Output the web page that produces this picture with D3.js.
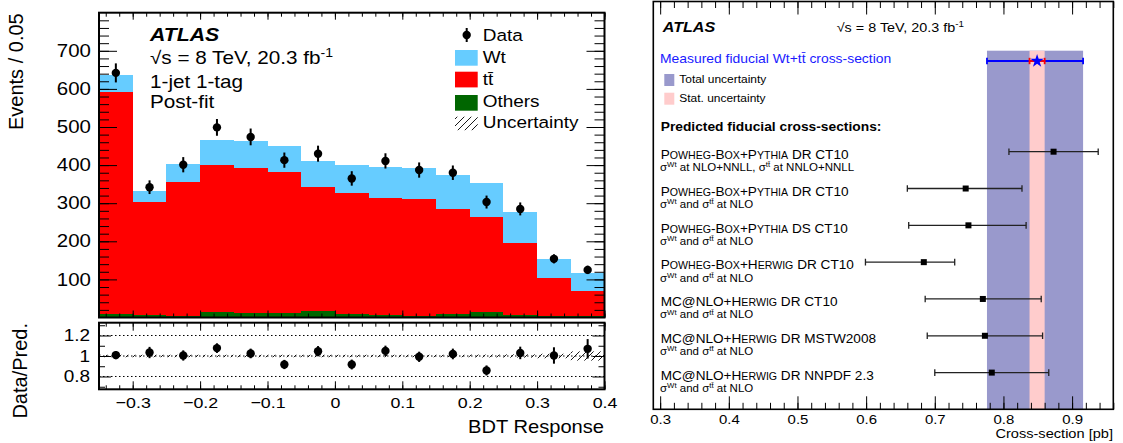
<!DOCTYPE html>
<html>
<head>
<meta charset="utf-8">
<script src="https://cdn.jsdelivr.net/npm/d3@7"></script>
<style>
  body { margin: 0; background: #fff; }
  svg { display: block; font-family: 'Liberation Sans', Arial, Helvetica, sans-serif; }
</style>
</head>
<body>
<svg id="chart" width="1123" height="443"></svg>
<script>
// ---- left: BDT response, 1-jet 1-tag, post-fit ----
const binEdges = [-0.35, -0.3, -0.25, -0.2, -0.15, -0.1, -0.05, 0, 0.05, 0.1, 0.15, 0.2, 0.25, 0.3, 0.35, 0.4];
const others = [10, 7, 4, 14, 13, 11, 17, 9, 7, 5, 10, 14, 7, 4, 4];
const ttbar = [582, 296, 352, 385, 380, 370, 325, 317, 307, 306, 275, 249, 188, 100, 66];
const wt = [44, 28, 47, 67, 71, 70, 70, 74, 80, 81, 89, 90, 82, 49, 48];
const dataCounts = [642, 342, 401, 499, 474, 413, 430, 365, 411, 387, 380, 303, 285, 154, 125];
const dataErr = [25, 18, 20, 22, 22, 20, 21, 19, 20, 20, 19, 17, 17, 12, 11];
const ratio = [1.009, 1.034, 1.005, 1.077, 1.025, 0.917, 1.047, 0.917, 1.05, 0.992, 1.02, 0.859, 1.03, 1.005, 1.07];
const ratioErr = [0.04, 0.055, 0.05, 0.047, 0.047, 0.045, 0.05, 0.048, 0.051, 0.05, 0.052, 0.049, 0.061, 0.08, 0.095];
const relUnc = [0.012, 0.012, 0.012, 0.012, 0.012, 0.012, 0.012, 0.012, 0.012, 0.012, 0.012, 0.014, 0.016, 0.022, 0.045];
const xTickVals = [-0.3, -0.2, -0.1, 0, 0.1, 0.2, 0.3, 0.4];
const yTickVals = [100, 200, 300, 400, 500, 600, 700];
const rTickVals = [0.8, 1, 1.2];

// ---- right: fiducial cross-section comparison ----
const measured = {value: 0.849, statLo: 0.838, statHi: 0.860, totLo: 0.776, totHi: 0.916};
const models = ['Powheg-Box+Pythia DR CT10', 'Powheg-Box+Pythia DR CT10', 'Powheg-Box+Pythia DS CT10',
  'Powheg-Box+Herwig DR CT10', 'MC@NLO+Herwig DR CT10', 'MC@NLO+Herwig DR MSTW2008', 'MC@NLO+Herwig DR NNPDF 2.3'];
const modelNotes = ['σ^{Wt} at NLO+NNLL, σ^{tt\u0304} at NNLO+NNLL', 'σ^{Wt} and σ^{tt\u0304} at NLO', 'σ^{Wt} and σ^{tt\u0304} at NLO',
  'σ^{Wt} and σ^{tt\u0304} at NLO', 'σ^{Wt} and σ^{tt\u0304} at NLO', 'σ^{Wt} and σ^{tt\u0304} at NLO', 'σ^{Wt} and σ^{tt\u0304} at NLO'];
const predCentral = [0.873, 0.745, 0.749, 0.684, 0.770, 0.773, 0.783];
const predLo = [0.808, 0.660, 0.662, 0.599, 0.686, 0.689, 0.700];
const predHi = [0.938, 0.827, 0.833, 0.729, 0.855, 0.857, 0.866];
const csTickVals = [0.3, 0.4, 0.5, 0.6, 0.7, 0.8, 0.9];

const SX = 1.15; // the reference glyphs run wider than Arial
const svg = d3.select('#chart');

function txt(parent, x, y, str, o) {
  o = o || {};
  const sx = o.sx || (o.rotate ? 1 : SX);
  return parent.append('text')
    .attr('transform', `translate(${x},${y}) rotate(${o.rotate || 0}) scale(${sx},1)`)
    .attr('text-anchor', o.anchor || 'start')
    .style('font-size', (o.size || 16) + 'px')
    .style('font-weight', o.bold ? 'bold' : null)
    .style('font-style', o.italic ? 'italic' : null)
    .attr('fill', o.color || '#000')
    .text(str);
}

// "a^{b} c" -> tspans with superscripts
function rich(parent, x, y, str, size, o) {
  const t = txt(parent, x, y, null, Object.assign({size: size}, o));
  const parts = str.split(/\^\{([^}]*)\}/);
  let shift = 0;
  parts.forEach(function (p, i) {
    if (!p) return;
    const up = i % 2 ? -size * 0.38 : 0;
    t.append('tspan').attr('dy', up - shift)
      .style('font-size', (i % 2 ? size * 0.68 : size) + 'px').text(p);
    shift = up;
  });
  return t;
}

// small caps: lowercase runs drawn as smaller capitals
function smallCaps(parent, x, y, str, size, o) {
  const t = txt(parent, x, y, null, Object.assign({size: size}, o));
  str.split(/([a-z]+)/).forEach(function (p, i) {
    if (!p) return;
    t.append('tspan').style('font-size', (i % 2 ? size * 0.78 : size) + 'px')
      .text(i % 2 ? p.toUpperCase() : p);
  });
}

function stretchTicks(g, size) {
  g.attr('font-size', null).attr('font-family', null);
  g.select('.domain').remove();
  g.selectAll('.tick text').each(function () {
    const t = d3.select(this);
    const x = +t.attr('x') || 0, y = +t.attr('y') || 0;
    t.attr('x', 0).attr('y', 0).style('font-size', size + 'px')
      .attr('transform', `translate(${x},${y}) scale(${SX},1)`);
  });
}

function ticks(parent, axis, scale, values, size, at) {
  const g = parent.append('g').attr('transform', at)
    .call(axis(scale).tickValues(values).tickSize(size).tickFormat(''));
  g.select('.domain').remove();
  g.selectAll('line').attr('stroke-width', 1);
  return g;
}

const fmt = function (d) { return d === 0 ? '0' : (d === 1 ? '1' : d3.format('.1f')(d)); };

// ================= LEFT PANEL =================
const xL = d3.scaleLinear().domain([-0.35, 0.4]).range([99, 604.5]);
const yTop = d3.scaleLinear().domain([0, 800]).range([317.5, 12.7]);
const yRat = d3.scaleLinear().domain([0.675, 1.325]).range([389.3, 322.7]);
const colors = {others: '#006600', tt: '#ff0000', wt: '#66ccff'};

const rows = dataCounts.map(function (d, i) {
  return {lo: binEdges[i], hi: binEdges[i + 1], others: others[i], tt: ttbar[i], wt: wt[i],
    data: d, err: dataErr[i], ratio: ratio[i], rerr: ratioErr[i], unc: relUnc[i]};
});
const stacked = d3.stack().keys(['others', 'tt', 'wt'])(rows);

const left = svg.append('g');
left.append('g').selectAll('g')
  .data(stacked)
  .join('g')
  .attr('fill', function (d) { return colors[d.key]; })
  .selectAll('rect')
  .data(function (d) { return d; })
  .join('rect')
  .attr('shape-rendering', 'crispEdges')
  .attr('x', function (d) { return xL(d.data.lo); })
  .attr('width', function (d) { return xL(d.data.hi) - xL(d.data.lo); })
  .attr('y', function (d) { return yTop(d[1]); })
  .attr('height', function (d) { return yTop(d[0]) - yTop(d[1]); });

// hatch pattern
const defs = svg.append('defs');
defs.append('pattern').attr('id', 'hatch').attr('patternUnits', 'userSpaceOnUse')
  .attr('width', 7).attr('height', 7)
  .append('path').attr('d', 'M0,7 L7,0 M-1,1 L1,-1 M6,8 L8,6')
  .attr('stroke', '#000').attr('stroke-width', 0.9);

// ticks, upper
const xMinor = d3.range(-0.34, 0.401, 0.02);
const yMinor = d3.range(20, 800, 20);
ticks(left, d3.axisTop, xL, xMinor, -4, `translate(0,${yTop.range()[1]})`);
ticks(left, d3.axisTop, xL, xTickVals, -7, `translate(0,${yTop.range()[1]})`);
ticks(left, d3.axisBottom, xL, xMinor, -4, `translate(0,${yTop.range()[0]})`);
ticks(left, d3.axisBottom, xL, xTickVals, -7, `translate(0,${yTop.range()[0]})`);
ticks(left, d3.axisLeft, yTop, yMinor, -10, 'translate(99,0)');
ticks(left, d3.axisRight, yTop, yMinor, -10, 'translate(604.5,0)');
ticks(left, d3.axisRight, yTop, yTickVals, -18, 'translate(604.5,0)');
left.append('g').attr('transform', 'translate(99,0)')
  .call(d3.axisLeft(yTop).tickValues(yTickVals).tickSize(-18).tickPadding(8))
  .call(stretchTicks, 17.8);

// frames
left.append('rect').attr('x', 99).attr('y', 12.7).attr('width', 505.5).attr('height', 304.8)
  .attr('fill', 'none').attr('stroke', '#000').attr('stroke-width', 2);

// data points, upper
const pts = left.append('g');
pts.selectAll('line').data(rows).join('line')
  .attr('x1', function (d) { return xL((d.lo + d.hi) / 2); })
  .attr('x2', function (d) { return xL((d.lo + d.hi) / 2); })
  .attr('y1', function (d) { return yTop(d.data - d.err); })
  .attr('y2', function (d) { return yTop(d.data + d.err); })
  .attr('stroke', '#000').attr('stroke-width', 2);
pts.selectAll('circle').data(rows).join('circle')
  .attr('cx', function (d) { return xL((d.lo + d.hi) / 2); })
  .attr('cy', function (d) { return yTop(d.data); })
  .attr('r', 4.2);

// ratio panel
const rp = left.append('g');
rp.selectAll('line.grid').data(rTickVals).join('line').attr('class', 'grid')
  .attr('x1', 99).attr('x2', 604.5)
  .attr('y1', function (d) { return yRat(d); }).attr('y2', function (d) { return yRat(d); })
  .attr('stroke', '#000').attr('stroke-width', 1).attr('stroke-dasharray', '1.5,2.5');
rp.selectAll('rect.unc').data(rows).join('rect').attr('class', 'unc')
  .attr('x', function (d) { return xL(d.lo); })
  .attr('width', function (d) { return xL(d.hi) - xL(d.lo); })
  .attr('y', function (d) { return yRat(1 + d.unc); })
  .attr('height', function (d) { return yRat(1 - d.unc) - yRat(1 + d.unc); })
  .attr('fill', 'url(#hatch)');
const rMinor = [0.7, 0.9, 1.1, 1.3];
ticks(rp, d3.axisTop, xL, xMinor, -4, `translate(0,${yRat.range()[1]})`);
ticks(rp, d3.axisTop, xL, xTickVals, -8, `translate(0,${yRat.range()[1]})`);
ticks(rp, d3.axisBottom, xL, xMinor, -4, `translate(0,${yRat.range()[0]})`);
ticks(rp, d3.axisLeft, yRat, rMinor, -6, 'translate(99,0)');
ticks(rp, d3.axisRight, yRat, rMinor, -6, 'translate(604.5,0)');
ticks(rp, d3.axisRight, yRat, rTickVals, -12, 'translate(604.5,0)');
rp.append('g').attr('transform', `translate(0,${yRat.range()[0]})`)
  .call(d3.axisBottom(xL).tickValues(xTickVals).tickSize(-8).tickPadding(8).tickFormat(fmt))
  .call(stretchTicks, 15.5);
rp.append('g').attr('transform', 'translate(99,0)')
  .call(d3.axisLeft(yRat).tickValues(rTickVals).tickSize(-12).tickPadding(9).tickFormat(fmt))
  .call(stretchTicks, 16.5);
rp.append('rect').attr('x', 99).attr('y', 322.7).attr('width', 505.5).attr('height', 66.6)
  .attr('fill', 'none').attr('stroke', '#000').attr('stroke-width', 2);
rp.selectAll('line.err').data(rows).join('line').attr('class', 'err')
  .attr('x1', function (d) { return xL((d.lo + d.hi) / 2); })
  .attr('x2', function (d) { return xL((d.lo + d.hi) / 2); })
  .attr('y1', function (d) { return yRat(d.ratio - d.rerr); })
  .attr('y2', function (d) { return yRat(d.ratio + d.rerr); })
  .attr('stroke', '#000').attr('stroke-width', 2);
rp.selectAll('circle').data(rows).join('circle')
  .attr('cx', function (d) { return xL((d.lo + d.hi) / 2); })
  .attr('cy', function (d) { return yRat(d.ratio); })
  .attr('r', 4.2);

// titles and labels
txt(left, 23.3, 13.3, 'Events / 0.05', {rotate: -90, anchor: 'end', size: 20});
txt(left, 26.7, 323, 'Data/Pred.', {rotate: -90, anchor: 'end', size: 20});
txt(left, 604, 433, 'BDT Response', {anchor: 'end', size: 17.5});
txt(left, 150, 40.7, 'ATLAS', {bold: true, italic: true, size: 18.5});
rich(left, 150, 64, '√s = 8 TeV, 20.3 fb^{-1}', 18);
txt(left, 150, 88.3, '1-jet 1-tag', {size: 18});
txt(left, 150, 108.3, 'Post-fit', {size: 18});

// legend
const leg = left.append('g');
leg.append('line').attr('x1', 466.7).attr('x2', 466.7).attr('y1', 28).attr('y2', 42)
  .attr('stroke', '#000').attr('stroke-width', 2);
leg.append('circle').attr('cx', 466.7).attr('cy', 35).attr('r', 4.2);
const legBoxes = [{c: colors.wt, y: 50}, {c: colors.tt, y: 71.7}, {c: colors.others, y: 95}];
leg.selectAll('rect').data(legBoxes).join('rect')
  .attr('x', 455).attr('width', 22.7).attr('y', function (d) { return d.y; }).attr('height', 15.7)
  .attr('fill', function (d) { return d.c; });
leg.append('rect').attr('x', 455).attr('width', 22.7).attr('y', 116.7).attr('height', 13.5)
  .attr('fill', 'url(#hatch)');
const legLabels = ['Data', 'Wt', 'tt\u0304', 'Others', 'Uncertainty'];
const legY = [40.7, 63.3, 85, 106.7, 128.3];
legLabels.forEach(function (l, i) { txt(leg, 482.7, legY[i], l, {size: 16.5}); });

// ================= RIGHT PANEL =================
const xR = d3.scaleLinear().domain([0.29, 0.96]).range([653.3, 1113.3]);
const yR = d3.scalePoint().domain(d3.range(models.length)).range([151.7, 372.6]);
const right = svg.append('g');
const frameTop = 1.5, frameBot = 409.3;

right.append('rect').attr('x', xR(measured.totLo)).attr('width', xR(measured.totHi) - xR(measured.totLo))
  .attr('y', 50.7).attr('height', frameBot - 50.7).attr('fill', '#9999cc');
right.append('rect').attr('x', xR(measured.statLo)).attr('width', xR(measured.statHi) - xR(measured.statLo))
  .attr('y', 50.7).attr('height', frameBot - 50.7).attr('fill', '#ffcccc');

const csMinor = d3.range(0.30, 0.961, 0.02);
ticks(right, d3.axisTop, xR, csMinor, -6.5, `translate(0,${frameTop})`);
ticks(right, d3.axisTop, xR, csTickVals, -13, `translate(0,${frameTop})`);
ticks(right, d3.axisBottom, xR, csMinor, -6.5, `translate(0,${frameBot})`);
right.append('g').attr('transform', `translate(0,${frameBot})`)
  .call(d3.axisBottom(xR).tickValues(csTickVals).tickSize(-13).tickPadding(5.5).tickFormat(d3.format('.1f')))
  .call(stretchTicks, 13);
right.append('rect').attr('x', 653.3).attr('y', frameTop).attr('width', 460).attr('height', frameBot - frameTop)
  .attr('fill', 'none').attr('stroke', '#000').attr('stroke-width', 1.6);

// measured value
const mY = 61, cap = 3.2;
const mg = right.append('g');
mg.append('line').attr('x1', xR(measured.totLo)).attr('x2', xR(measured.totHi)).attr('y1', mY).attr('y2', mY)
  .attr('stroke', '#0000ff').attr('stroke-width', 1.8);
[measured.totLo, measured.totHi].forEach(function (v) {
  mg.append('line').attr('x1', xR(v)).attr('x2', xR(v)).attr('y1', mY - cap).attr('y2', mY + cap)
    .attr('stroke', '#0000ff').attr('stroke-width', 1.8);
});
mg.append('line').attr('x1', xR(measured.statLo)).attr('x2', xR(measured.statHi)).attr('y1', mY).attr('y2', mY)
  .attr('stroke', '#ff0000').attr('stroke-width', 1.8);
[measured.statLo, measured.statHi].forEach(function (v) {
  mg.append('line').attr('x1', xR(v)).attr('x2', xR(v)).attr('y1', mY - cap).attr('y2', mY + cap)
    .attr('stroke', '#ff0000').attr('stroke-width', 1.8);
});
mg.append('path').attr('d', d3.symbol(d3.symbolStar, 55)())
  .attr('transform', `translate(${xR(measured.value)},${mY})`).attr('fill', '#0000ff');

// predictions
const pg = right.append('g');
pg.selectAll('line.bar').data(models).join('line').attr('class', 'bar')
  .attr('x1', function (d, i) { return xR(predLo[i]); })
  .attr('x2', function (d, i) { return xR(predHi[i]); })
  .attr('y1', function (d, i) { return yR(i); }).attr('y2', function (d, i) { return yR(i); })
  .attr('stroke', '#222').attr('stroke-width', 1.3);
pg.selectAll('path.caps').data(models).join('path').attr('class', 'caps')
  .attr('d', function (d, i) {
    const y = yR(i);
    return `M${xR(predLo[i])},${y - 3.3}V${y + 3.3}M${xR(predHi[i])},${y - 3.3}V${y + 3.3}`;
  })
  .attr('stroke', '#222').attr('stroke-width', 1.3);
pg.selectAll('rect').data(models).join('rect')
  .attr('x', function (d, i) { return xR(predCentral[i]) - 3; })
  .attr('y', function (d, i) { return yR(i) - 3; })
  .attr('width', 6).attr('height', 6).attr('fill', '#000');

models.forEach(function (m, i) {
  smallCaps(right, 660.7, yR(i) + 7.2, m, 13.6, {sx: 1});
  rich(right, 660, yR(i) + 19.4, modelNotes[i], 10);
});

// right labels
txt(right, 662.7, 31.7, 'ATLAS', {bold: true, italic: true, size: 14});
rich(right, 836.7, 31.7, '√s = 8 TeV, 20.3 fb^{-1}', 12.5);
txt(right, 660, 62.7, 'Measured fiducial Wt+tt\u0304 cross-section', {size: 12.1, color: '#1a1aff'});
right.append('rect').attr('x', 664.3).attr('y', 74).attr('width', 10).attr('height', 12).attr('fill', '#9999cc');
right.append('rect').attr('x', 664.3).attr('y', 92.7).attr('width', 10).attr('height', 12).attr('fill', '#ffcccc');
txt(right, 679.3, 83.3, 'Total uncertainty', {size: 10.4});
txt(right, 679.3, 101.7, 'Stat. uncertainty', {size: 10.4});
txt(right, 660.7, 130.7, 'Predicted fiducial cross-sections:', {bold: true, size: 12});
txt(right, 1113, 438.3, 'Cross-section [pb]', {anchor: 'end', size: 12.7});
</script>
</body>
</html>
